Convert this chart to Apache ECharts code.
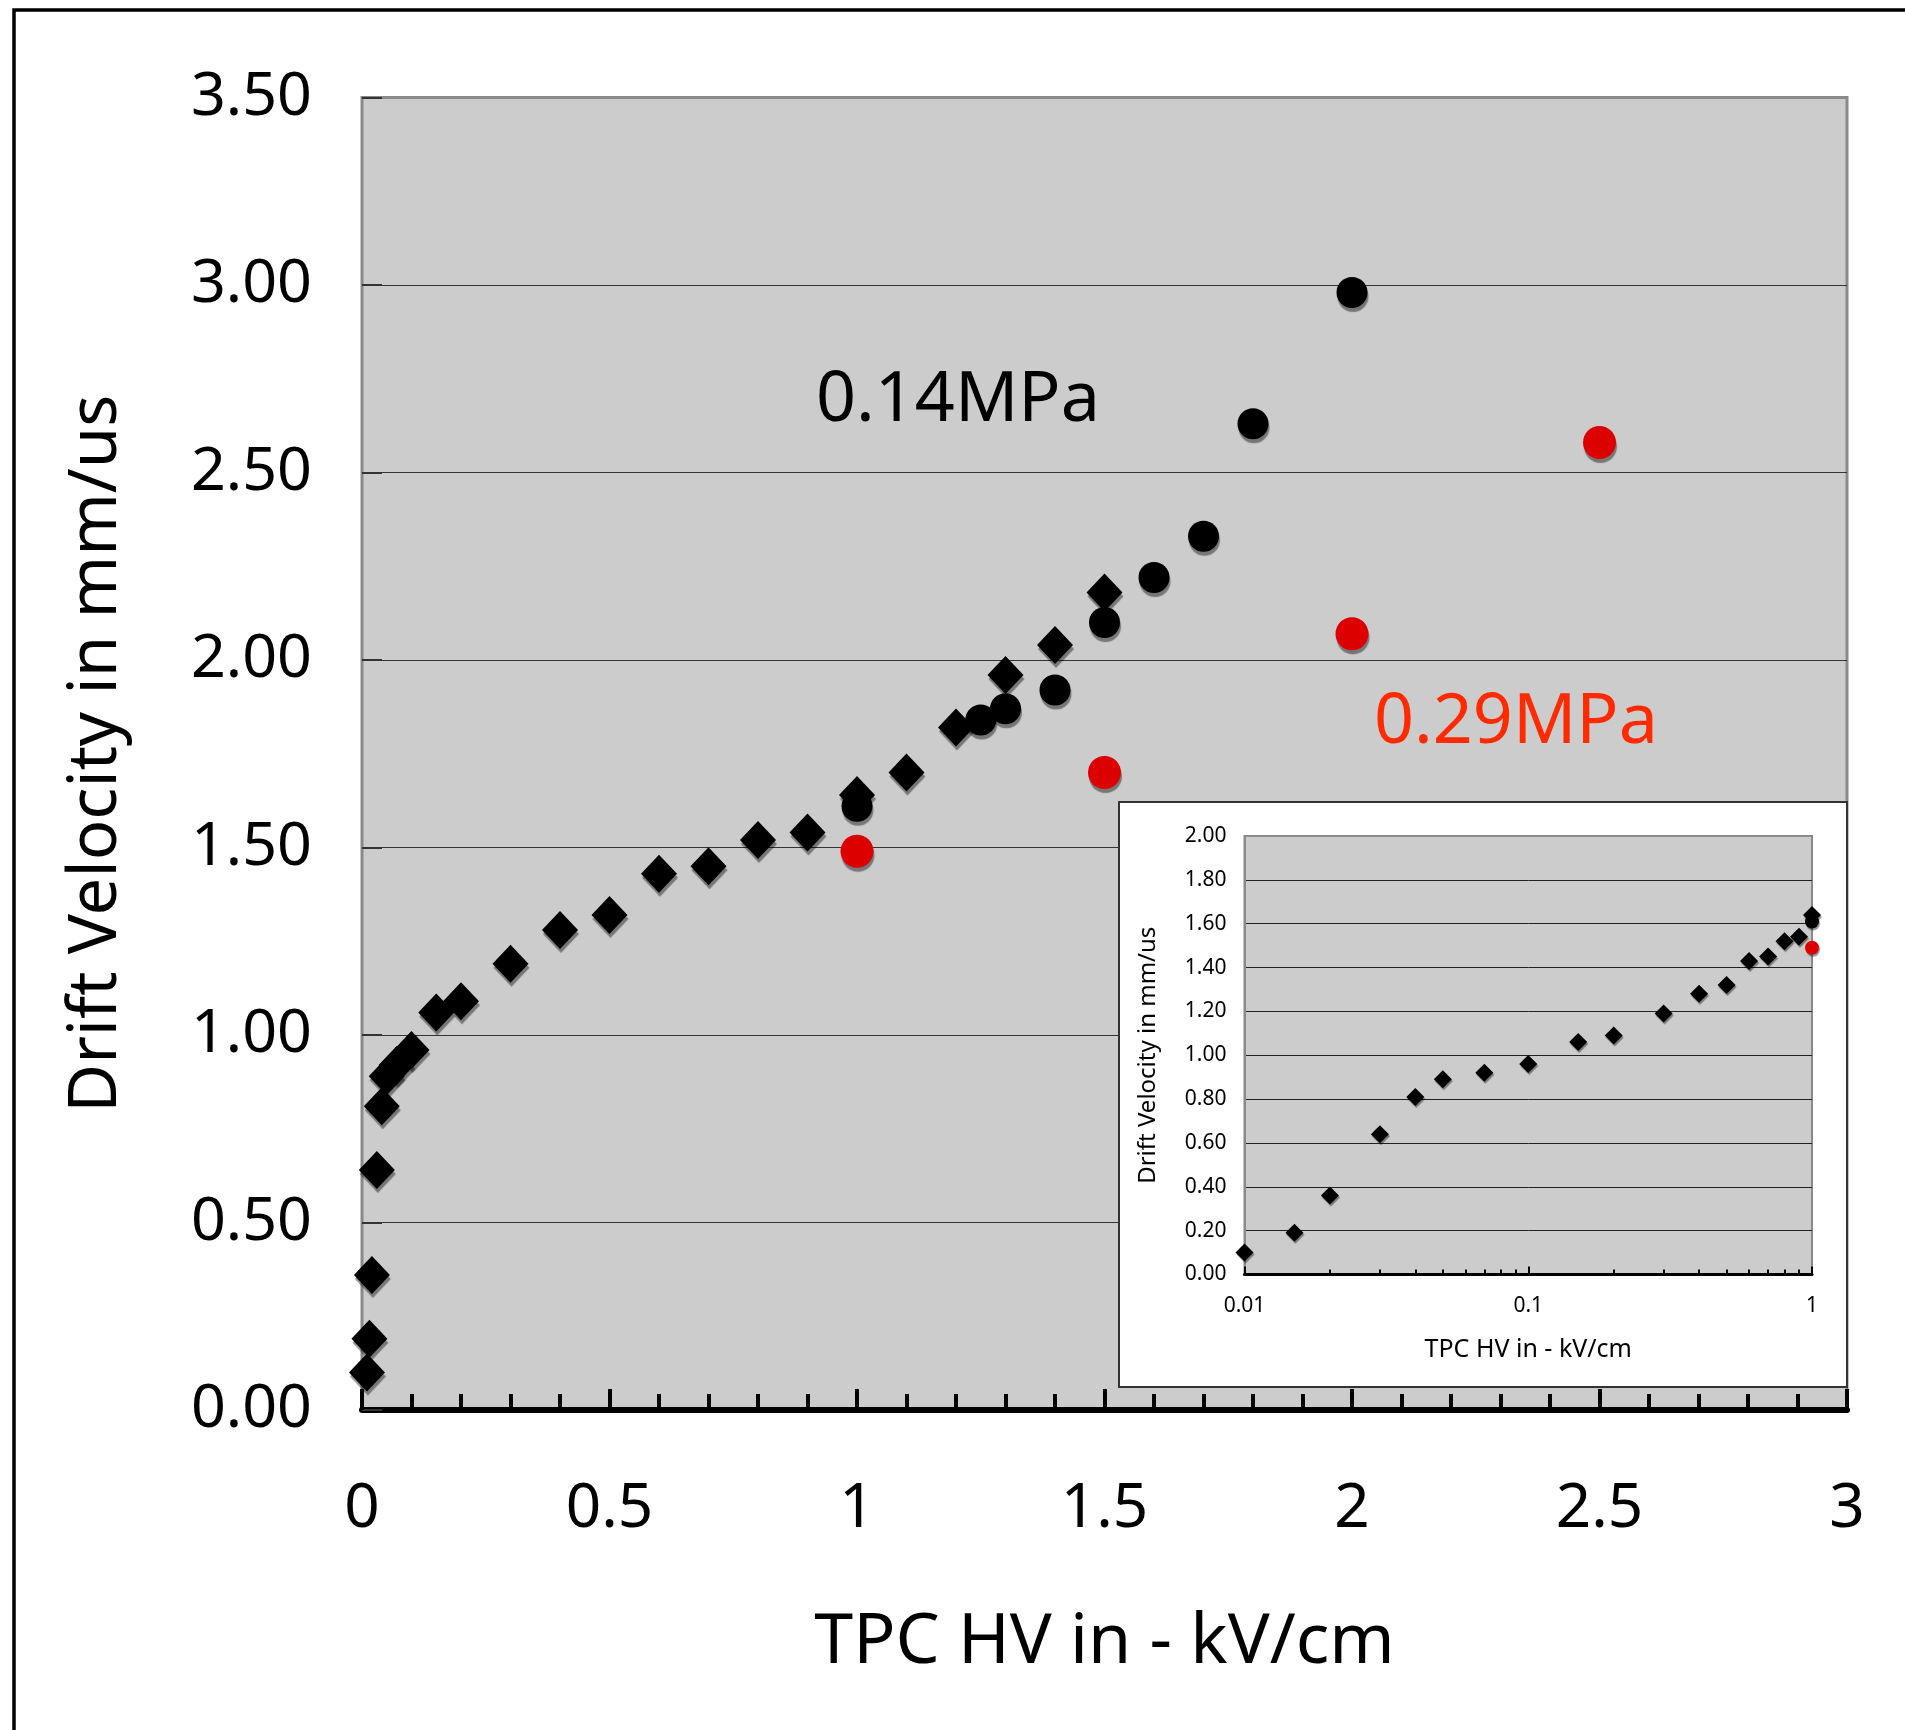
<!DOCTYPE html>
<html>
<head>
<meta charset="utf-8">
<title>Drift Velocity vs TPC HV</title>
<script src="https://cdn.jsdelivr.net/npm/echarts@6/dist/echarts.min.js"></script>
<style>
  html, body { margin: 0; padding: 0; background: #ffffff; }
  #chart { width: 1905px; height: 1730px; }
</style>
</head>
<body>
<div id="chart"></div>
<script>
// Field strength (kV/cm) and drift velocity (mm/us) measurements
const fieldScan = [0.01, 0.015, 0.02, 0.03, 0.04, 0.05, 0.07, 0.1, 0.15, 0.2, 0.3, 0.4, 0.5,
                   0.6, 0.7, 0.8, 0.9, 1.0, 1.1, 1.2, 1.3, 1.4, 1.5];
const velocityScan = [0.10, 0.19, 0.36, 0.64, 0.81, 0.89, 0.92, 0.96, 1.06, 1.09, 1.19, 1.28, 1.32,
                      1.43, 1.45, 1.52, 1.54, 1.64, 1.70, 1.82, 1.96, 2.04, 2.18];

const field014 = [1.0, 1.25, 1.3, 1.4, 1.5, 1.6, 1.7, 1.8, 2.0];
const velocity014 = [1.61, 1.84, 1.87, 1.92, 2.10, 2.22, 2.33, 2.63, 2.98];

const field029 = [1.0, 1.5, 2.0, 2.5];
const velocity029 = [1.49, 1.70, 2.07, 2.58];

const pressureLabels = ['0.14MPa', '0.29MPa'];

// Log-axis minor tick positions for the inset (2..9 per decade)
const insetMinorTicks = [0.02, 0.03, 0.04, 0.05, 0.06, 0.07, 0.08, 0.09,
                         0.2, 0.3, 0.4, 0.5, 0.6, 0.7, 0.8, 0.9];

const xTitle = 'TPC HV in - kV/cm';
const yTitle = 'Drift Velocity in mm/us';

const FONT = '"Noto Sans", "Liberation Sans", sans-serif';

function pairs(xs, ys) {
  return xs.map((x, i) => [x, ys[i]]);
}

function markerStyle(color, dy) {
  return { color: color, opacity: 1, shadowColor: 'rgba(0,0,0,0.42)', shadowBlur: 1,
           shadowOffsetX: 1, shadowOffsetY: dy };
}

const chart = echarts.init(document.getElementById('chart'), null, { renderer: 'canvas' });

const option = {
  animation: false,
  backgroundColor: '#ffffff',
  textStyle: { fontFamily: FONT },
  grid: [
    { left: 362, top: 97.5, width: 1485, height: 1312.5, show: true,
      backgroundColor: '#cccccc', borderColor: '#8a8a8a', borderWidth: 3, z: 0 },
    { left: 1244.5, top: 836, width: 567.5, height: 438.5, show: true,
      backgroundColor: '#cccccc', borderColor: '#8a8a8a', borderWidth: 2, z: 10 }
  ],
  xAxis: [
    {
      type: 'value', gridIndex: 0, min: 0, max: 3, interval: 0.5, position: 'bottom',
      axisLine: { show: true, onZero: false, lineStyle: { color: '#000', width: 6 } },
      axisTick: { show: true, inside: true, length: 21, lineStyle: { color: '#000', width: 4 } },
      minorTick: { show: true, splitNumber: 5, length: 16, lineStyle: { color: '#000', width: 4 } },
      axisLabel: { margin: 68, fontSize: 62, color: '#000', fontFamily: FONT },
      splitLine: { show: false },
      name: xTitle, nameLocation: 'middle', nameGap: 198,
      nameTextStyle: { fontSize: 70, color: '#000', fontFamily: FONT }
    },
    {
      type: 'log', logBase: 10, gridIndex: 1, min: 0.01, max: 1, position: 'bottom', z: 11,
      axisLine: { show: true, onZero: false, lineStyle: { color: '#000', width: 3 } },
      axisTick: { show: true, inside: true, length: 8, lineStyle: { color: '#000', width: 2 } },
      axisLabel: { margin: 21, fontSize: 21, color: '#000', fontFamily: FONT },
      splitLine: { show: false },
      name: xTitle, nameLocation: 'middle', nameGap: 63,
      nameTextStyle: { fontSize: 25, color: '#000', fontFamily: FONT }
    },
    {
      type: 'log', logBase: 10, gridIndex: 1, min: 0.01, max: 1, position: 'bottom', offset: 0, z: 11,
      axisLine: { show: false },
      axisTick: { show: true, inside: true, length: 5, customValues: insetMinorTicks,
                  lineStyle: { color: '#000', width: 2 } },
      axisLabel: { show: false },
      splitLine: { show: false }
    }
  ],
  yAxis: [
    {
      type: 'value', gridIndex: 0, min: 0, max: 3.5, interval: 0.5,
      axisLine: { show: true, lineStyle: { color: '#8a8a8a', width: 2 } },
      axisTick: { show: true, inside: true, length: 20, lineStyle: { color: '#333', width: 2 } },
      axisLabel: { margin: 50, fontSize: 61, color: '#000', fontFamily: FONT,
                   formatter: v => v.toFixed(2) },
      splitLine: { show: true, showMaxLine: false, showMinLine: false,
                   lineStyle: { color: '#333', width: 1.2 } },
      name: yTitle, nameLocation: 'middle', nameGap: 232,
      nameTextStyle: { fontSize: 67, color: '#000', fontFamily: FONT }
    },
    {
      type: 'value', gridIndex: 1, min: 0, max: 2, interval: 0.2, z: 11,
      axisLine: { show: true, lineStyle: { color: '#8a8a8a', width: 2 } },
      axisTick: { show: false },
      axisLabel: { margin: 18, fontSize: 21, color: '#000', fontFamily: FONT,
                   formatter: v => v.toFixed(2) },
      splitLine: { show: true, showMaxLine: false, showMinLine: false,
                   lineStyle: { color: '#222', width: 1 } },
      name: yTitle, nameLocation: 'middle', nameGap: 84,
      nameTextStyle: { fontSize: 24, color: '#000', fontFamily: FONT }
    }
  ],
  series: [
    { type: 'scatter', name: 'scan', xAxisIndex: 0, yAxisIndex: 0, z: 2,
      symbol: 'diamond', symbolSize: [36, 38], data: pairs(fieldScan, velocityScan),
      itemStyle: markerStyle('#000', 4) },
    { type: 'scatter', name: pressureLabels[0], xAxisIndex: 0, yAxisIndex: 0, z: 3,
      symbol: 'circle', symbolSize: 31, data: pairs(field014, velocity014),
      itemStyle: markerStyle('#000', 4) },
    { type: 'scatter', name: pressureLabels[1], xAxisIndex: 0, yAxisIndex: 0, z: 3,
      symbol: 'circle', symbolSize: 33, data: pairs(field029, velocity029),
      itemStyle: markerStyle('#dd0000', 4) },

    { type: 'scatter', name: 'scan-inset', xAxisIndex: 1, yAxisIndex: 1, z: 12, clip: true,
      symbol: 'diamond', symbolSize: [18, 18], data: pairs(fieldScan, velocityScan),
      itemStyle: markerStyle('#000', 2) },
    { type: 'scatter', name: pressureLabels[0] + '-inset', xAxisIndex: 1, yAxisIndex: 1, z: 12, clip: true,
      symbol: 'circle', symbolSize: 14, data: pairs(field014, velocity014),
      itemStyle: markerStyle('#000', 2) },
    { type: 'scatter', name: pressureLabels[1] + '-inset', xAxisIndex: 1, yAxisIndex: 1, z: 12, clip: true,
      symbol: 'circle', symbolSize: 14, data: pairs(field029, velocity029),
      itemStyle: markerStyle('#dd0000', 2) }
  ],
  graphic: [
    { type: 'rect', z: -10, silent: true,
      shape: { x: 14, y: 10, width: 2400, height: 2400 },
      style: { fill: null, stroke: '#000', lineWidth: 3.5 } },
    { type: 'rect', z: 5, silent: true,
      shape: { x: 1119, y: 802, width: 728, height: 585 },
      style: { fill: '#ffffff', stroke: '#333', lineWidth: 2 } },
    { type: 'text', z: 4, silent: true, x: 816, y: 401,
      style: { text: pressureLabels[0], fontSize: 70, fontFamily: FONT, fill: '#000',
               verticalAlign: 'middle', align: 'left' } },
    { type: 'text', z: 4, silent: true, x: 1374, y: 723,
      style: { text: pressureLabels[1], fontSize: 70, fontFamily: FONT, fill: '#ff2a00',
               verticalAlign: 'middle', align: 'left' } }
  ]
};

chart.setOption(option);
</script>
</body>
</html>
